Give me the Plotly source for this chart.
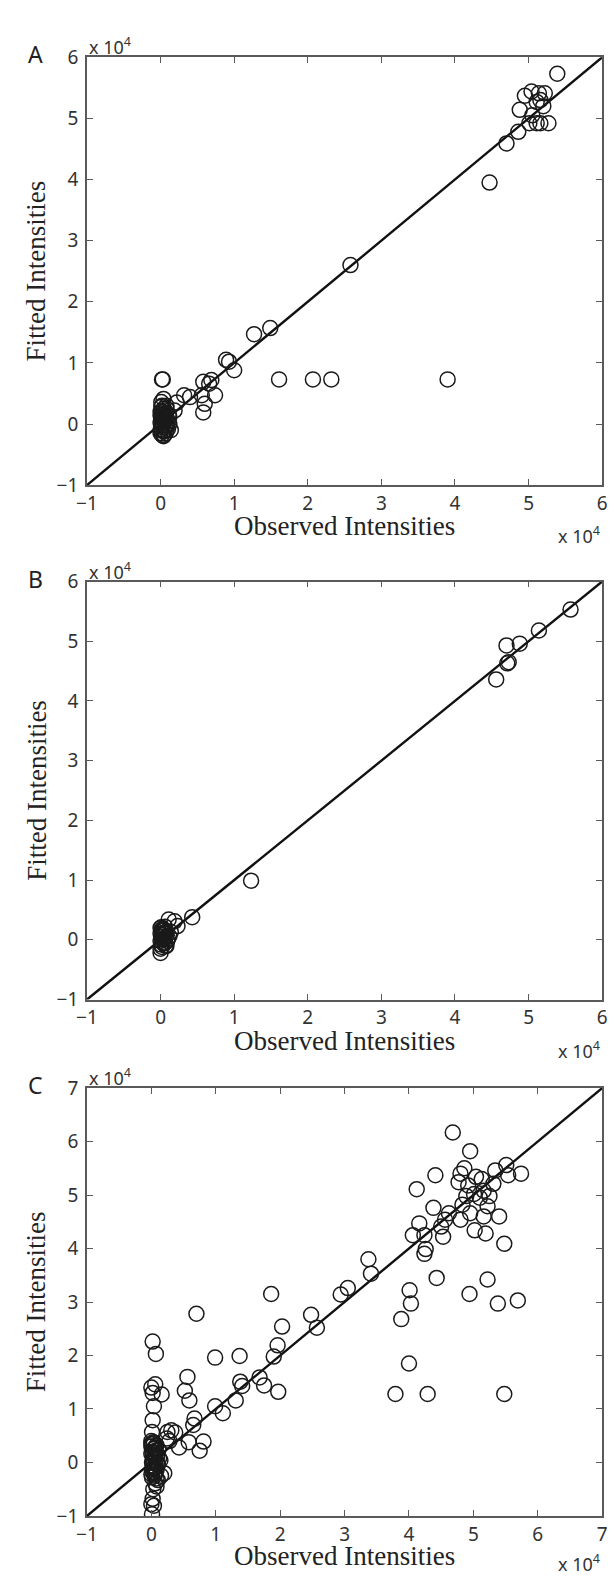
import plotly.graph_objects as go

# ---------------- data (units of 10^4) ----------------
obs_A = [5.39, 4.95, 5.04, 4.88, 5.14, 5.22, 5.11, 5.16, 5.01, 5.11, 5.16, 5.27, 4.86, 4.70, 4.47, 5.05, 5.20,
         2.58, 1.49, 1.27, 0.89, 0.93, 1.00,
         1.61, 2.07, 2.32, 3.90, 0.02, 0.03,
         0.56, 0.40, 0.32, 0.22, 0.66, 0.58, 0.69, 0.60, 0.58, 0.74, 0.19, 0.01, 0.04, 0.12, 0.08,
         0.00, 0.02, 0.05, 0.01, 0.03, 0.06, 0.08, 0.00, 0.04, 0.02, 0.07, 0.10, 0.01, 0.05, 0.03, 0.09,
         0.00, 0.06, 0.02, 0.04, 0.12, 0.08, 0.01, 0.03, 0.05, 0.07, 0.00, 0.02, 0.04, 0.10, 0.06, 0.03,
         0.01, 0.08, 0.05, 0.14, 0.11, 0.02, 0.04, 0.00]
fit_A = [5.73, 5.37, 5.44, 5.14, 5.41, 5.41, 5.27, 5.30, 4.92, 4.92, 4.92, 4.92, 4.78, 4.59, 3.95, 5.05, 5.20,
         2.60, 1.57, 1.47, 1.05, 1.02, 0.88,
         0.73, 0.73, 0.73, 0.73, 0.73, 0.73,
         0.47, 0.44, 0.47, 0.35, 0.66, 0.69, 0.72, 0.33, 0.19, 0.47, 0.22, 0.36, 0.41, 0.12, 0.30,
         0.20, 0.15, 0.10, 0.05, 0.00, -0.05, -0.10, -0.15, 0.25, 0.12, 0.18, 0.05, -0.08, -0.12, 0.08, -0.02,
         0.02, 0.22, -0.18, 0.16, 0.00, 0.10, 0.28, -0.05, 0.03, -0.15, -0.10, 0.30, -0.20, -0.08, 0.12, 0.20,
         0.10, 0.25, -0.18, -0.10, 0.15, -0.02, 0.06, 0.14]

obs_B = [5.57, 5.14, 4.88, 4.70, 4.71, 4.73, 4.56, 1.23, 0.43, 0.19, 0.11, 0.23, 0.14, 0.00,
         0.00, 0.02, 0.05, 0.01, 0.03, 0.06, 0.08, 0.00, 0.04, 0.02, 0.07, 0.10, 0.01, 0.05, 0.03,
         0.09, 0.00, 0.06, 0.02, 0.04, 0.12, 0.08, 0.01, 0.03, 0.05, 0.07, 0.00, 0.02, 0.04]
fit_B = [5.53, 5.18, 4.96, 4.93, 4.63, 4.65, 4.36, 0.99, 0.38, 0.31, 0.34, 0.23, 0.13, -0.22,
         0.20, 0.15, 0.10, 0.05, 0.00, -0.05, -0.10, -0.15, 0.12, 0.18, 0.05, 0.02, -0.08, 0.16, 0.08,
         -0.02, 0.10, 0.22, -0.12, 0.02, 0.06, 0.14, 0.21, -0.05, 0.03, -0.10, -0.02, 0.08, 0.18]

obs_C = [4.68, 4.95, 4.41, 4.12, 5.74, 5.51, 5.34, 5.54, 4.86, 4.80, 5.04, 5.13, 5.31, 4.77, 4.92, 5.01,
         5.16, 5.10, 5.25, 4.89, 4.83, 5.22, 5.40, 5.16, 5.02, 5.19, 5.48, 4.95, 4.80, 4.38, 4.62, 4.56,
         4.50, 4.53, 4.16, 4.06, 4.24, 4.26, 4.24, 4.43, 4.01, 4.03, 3.88, 4.00, 3.79, 4.29, 5.48, 4.94,
         5.22, 5.38, 5.69,
         3.37, 3.41, 3.05, 2.94, 2.48, 2.57, 1.86, 2.03, 1.96, 1.90, 1.97, 1.68, 1.75, 1.37, 1.38, 1.41,
         1.31, 0.99, 0.99, 1.11, 0.70, 0.56, 0.52, 0.59, 0.67, 0.65, 0.58, 0.81, 0.75, 0.43,
         0.02, 0.07, 0.00, 0.06, 0.02, 0.16, 0.04, 0.02, 0.01, 0.25, 0.31, 0.37, 0.24, 0.20, 0.28,
         0.02, 0.00, 0.04, 0.01, 0.06, 0.10, 0.03, 0.08, 0.15,
         0.00, 0.02, 0.05, 0.01, 0.03, 0.06, 0.08, 0.00, 0.04, 0.02, 0.07, 0.10, 0.01, 0.05, 0.03, 0.09,
         0.00, 0.06, 0.02, 0.04, 0.12, 0.08, 0.01, 0.03, 0.05, 0.07, 0.00, 0.02, 0.04, 0.10, 0.06, 0.03,
         0.01, 0.08, 0.05, 0.14, 0.11, 0.02, 0.04, 0.00]
fit_C = [6.17, 5.82, 5.37, 5.11, 5.40, 5.56, 5.46, 5.37, 5.50, 5.40, 5.34, 5.30, 5.21, 5.24, 5.18, 5.02,
         5.08, 4.95, 4.98, 4.98, 4.82, 4.79, 4.60, 4.60, 4.34, 4.28, 4.09, 4.66, 4.54, 4.76, 4.66, 4.54,
         4.41, 4.22, 4.47, 4.25, 4.25, 3.99, 3.90, 3.45, 3.22, 2.97, 2.68, 1.85, 1.28, 1.28, 1.28, 3.15,
         3.42, 2.97, 3.03,
         3.80, 3.53, 3.26, 3.14, 2.76, 2.52, 3.15, 2.54, 2.19, 1.98, 1.32, 1.59, 1.44, 1.99, 1.51, 1.43,
         1.16, 1.96, 1.05, 0.92, 2.78, 1.60, 1.34, 1.16, 0.82, 0.70, 0.38, 0.39, 0.22, 0.28,
         2.26, 2.03, 1.40, 1.46, 1.30, 1.27, 1.05, 0.79, 0.57, 0.57, 0.60, 0.56, 0.45, -0.20, 0.40,
         -0.68, -0.78, -0.81, -0.97, -0.39, -0.33, -0.50, -0.45, -0.25,
         0.30, 0.20, 0.10, 0.00, -0.10, -0.20, -0.30, 0.35, 0.25, 0.15, 0.05, -0.05, -0.15, -0.25, 0.38, 0.12,
         -0.22, 0.28, 0.02, -0.12, 0.08, 0.32, -0.28, 0.18, -0.08, 0.22, 0.40, -0.18, 0.26, -0.02, 0.14, 0.06,
         0.34, -0.14, 0.10, 0.04, 0.24, -0.06, 0.36, 0.16]

diag_A = [-1, 6]
diag_B = [-1, 6]
diag_C = [-1, 7]
ticks_A = [-1, 0, 1, 2, 3, 4, 5, 6]
ticks_C = [-1, 0, 1, 2, 3, 4, 5, 6, 7]
panel_letters = ["A", "B", "C"]
x_title = "Observed Intensities"
y_title = "Fitted Intensities"
multiplier = "x 10<sup>4</sup>"

# ---------------- layout geometry (pixels) ----------------
W, H = 614, 1585
X0, X1 = 78, 607
panels_px = [(45, 480), (578, 1003), (1093, 1528)]
title_gap = [42, 42, 41]
mult_gap = [51, 51, 48]

def py(p):
    return 1 - p / H

fig = go.Figure()
data = [(obs_A, fit_A, diag_A, ticks_A), (obs_B, fit_B, diag_B, ticks_A), (obs_C, fit_C, diag_C, ticks_C)]
annotations = []
for i, ((ox, fy, dg, tk), (top, bot)) in enumerate(zip(data, panels_px)):
    n = "" if i == 0 else str(i + 1)
    xa, ya = "x" + n, "y" + n
    fig.add_trace(go.Scatter(x=dg, y=dg, mode="lines", line=dict(color="#111", width=2.4),
                             xaxis=xa, yaxis=ya, showlegend=False, hoverinfo="skip"))
    fig.add_trace(go.Scatter(x=ox, y=fy, mode="markers",
                             marker=dict(symbol="circle-open", size=15, color="#1a1a1a",
                                         line=dict(width=1.5, color="#1a1a1a")),
                             xaxis=xa, yaxis=ya, showlegend=False))
    axcommon = dict(showgrid=False, zeroline=False, showline=True, linecolor="#5a5a5a", linewidth=1.6,
                    mirror="ticks", ticks="inside", ticklen=6, tickwidth=1.3, tickcolor="#5a5a5a",
                    tickfont=dict(family="Noto Sans", size=19, color="#333"),
                    range=[tk[0], tk[-1]], tickvals=tk, fixedrange=True)
    fig.update_layout(**{
        "xaxis" + n: dict(domain=[X0 / W, X1 / W], anchor=ya, ticklabelstandoff=0, **axcommon),
        "yaxis" + n: dict(domain=[py(bot), py(top)], anchor=xa, ticklabelstandoff=3, **axcommon),
    })
    common = dict(xref="paper", yref="paper", showarrow=False)
    annotations.append(dict(text=y_title, x=26 / W, y=py((top + bot) / 2), xanchor="center",
                            yanchor="middle", textangle=-90,
                            font=dict(family="Liberation Serif", size=27, color="#222"), **common))
    annotations.append(dict(text=x_title, x=(X0 + X1) / 2 / W, y=py(bot + title_gap[i]), xanchor="center",
                            yanchor="middle",
                            font=dict(family="Liberation Serif", size=27, color="#222"), **common))
    annotations.append(dict(text=multiplier, x=X0 / W, y=py(top - 11), xanchor="left", yanchor="middle",
                            font=dict(family="Noto Sans", size=18, color="#333"), **common))
    annotations.append(dict(text=multiplier, x=X1 / W, y=py(bot + mult_gap[i]), xanchor="right",
                            yanchor="middle",
                            font=dict(family="Noto Sans", size=18, color="#333"), **common))
    annotations.append(dict(text=panel_letters[i], x=25 / W, y=py(top - 3), xanchor="center",
                            yanchor="middle",
                            font=dict(family="Noto Sans", size=23, color="#222"), **common))

fig.update_layout(width=W, height=H, margin=dict(l=0, r=0, t=0, b=0),
                  paper_bgcolor="white", plot_bgcolor="white", annotations=annotations)
fig.write_html("out.html", config={"displayModeBar": False},
               post_script="document.body.style.margin='0px';document.body.style.overflow='hidden';")
